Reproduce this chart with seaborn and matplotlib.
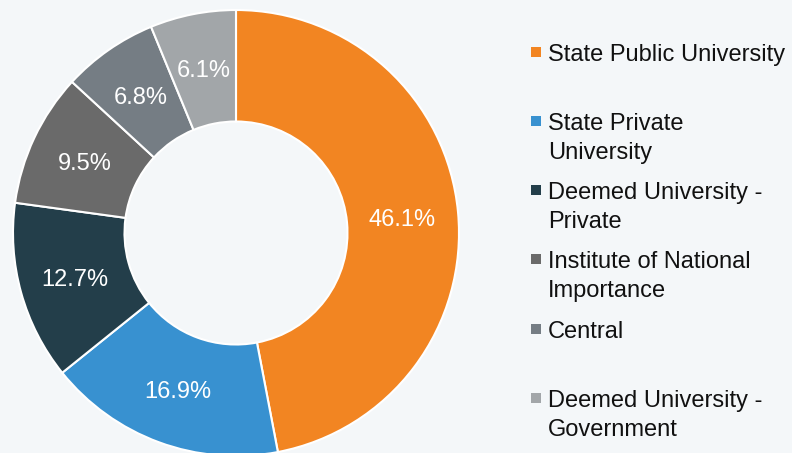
# Donut chart - share of universities by type
import numpy as np
import matplotlib.pyplot as plt
import seaborn as sns
from matplotlib.patches import Rectangle

# Data
categories = ['State Public University', 'State Private\nUniversity',
              'Deemed University -\nPrivate', 'Institute of National\nImportance',
              'Central', 'Deemed University -\nGovernment']
shares = [46.1, 16.9, 12.7, 9.5, 6.8, 6.1]
colors = ['#F28522', '#3891D0', '#233E4A', '#6A6A6A', '#757D84', '#A2A6A9']

bg = '#F4F7F9'
sns.set_theme(style='white')
plt.rcParams['font.family'] = ['Liberation Sans', 'DejaVu Sans']

fig = plt.figure(figsize=(7.92, 4.53), dpi=100, facecolor=bg)
# donut centred at (236, 233) px, outer radius 223 px
ax = fig.add_axes([13 / 792, (453 - 456) / 453, 446 / 792, 446 / 453])
ax.set_facecolor(bg)

wedges, _ = ax.pie(shares, colors=colors, startangle=90, counterclock=False,
                   radius=1, wedgeprops=dict(width=0.5, edgecolor='white', linewidth=1.5))
ax.set_xlim(-1, 1)
ax.set_ylim(-1, 1)
ax.set_aspect('equal')
ax.axis('off')

# percentage labels in the middle of the ring
for w, v in zip(wedges, shares):
    ang = np.deg2rad((w.theta1 + w.theta2) / 2)
    ax.text(0.75 * np.cos(ang), 0.75 * np.sin(ang), f'{v}%', ha='center',
            va='center_baseline', color='white', fontsize=17)

# legend on the right, first-line aligned markers
ys = [52, 121, 190, 259, 329, 398]
for lab, c, y in zip(categories, colors, ys):
    yf = 1 - y / 453
    fig.patches.append(Rectangle((531 / 792, yf - 5 / 453), 10 / 792, 10 / 453,
                                 transform=fig.transFigure, facecolor=c, edgecolor='none'))
    fig.text(548 / 792, yf + 8 / 453, lab, ha='left', va='top', fontsize=17,
             color='#111111', linespacing=1.39)

fig.savefig('out.png', dpi=100, facecolor=bg)
